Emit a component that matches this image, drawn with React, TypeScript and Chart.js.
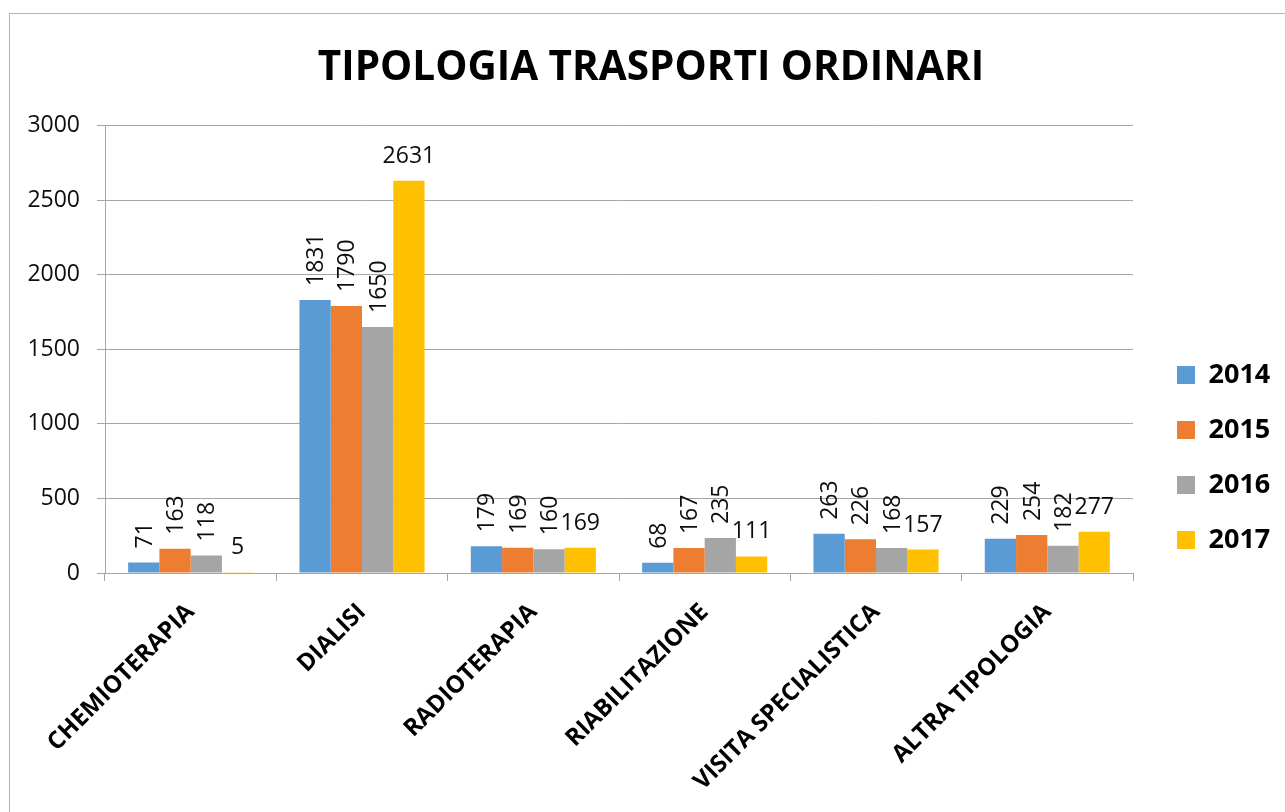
import React, { useEffect, useRef } from "react";
import { Chart, registerables } from "chart.js";

Chart.register(...registerables);

const categories = [
  "CHEMIOTERAPIA",
  "DIALISI",
  "RADIOTERAPIA",
  "RIABILITAZIONE",
  "VISITA SPECIALISTICA",
  "ALTRA TIPOLOGIA",
];
const seriesNames = ["2014", "2015", "2016", "2017"];
const values2014 = [71, 1831, 179, 68, 263, 229];
const values2015 = [163, 1790, 169, 167, 226, 254];
const values2016 = [118, 1650, 160, 235, 168, 182];
const values2017 = [5, 2631, 169, 111, 157, 277];
const seriesColors = ["#5B9BD5", "#ED7D31", "#A5A5A5", "#FFC000"];
const rotatedLabels = [true, true, true, false];
const yTicks = [0, 500, 1000, 1500, 2000, 2500, 3000];
const titleText = "TIPOLOGIA TRASPORTI ORDINARI";

const FONT = "'Open Sans', 'DejaVu Sans', sans-serif";
const GRID = "#a6a6a6";

const dataLabelPlugin = {
  id: "barValueLabels",
  afterDatasetsDraw(chart: any) {
    const ctx = chart.ctx;
    ctx.save();
    ctx.fillStyle = "#0d0d0d";
    ctx.font = `23px ${FONT}`;
    chart.data.datasets.forEach((ds: any, i: number) => {
      const meta = chart.getDatasetMeta(i);
      meta.data.forEach((el: any, j: number) => {
        const text = String(ds.data[j]);
        if (ds.rotatedLabel) {
          ctx.save();
          ctx.translate(el.x + 1.5, el.y - 14);
          ctx.rotate(-Math.PI / 2);
          ctx.textAlign = "left";
          ctx.textBaseline = "middle";
          ctx.fillText(text, 0, 0);
          ctx.restore();
        } else {
          ctx.textAlign = "center";
          ctx.textBaseline = "alphabetic";
          ctx.fillText(text, el.x, el.y - 18);
        }
      });
    });
    ctx.restore();
  },
};

export default function App() {
  const canvasRef = useRef<HTMLCanvasElement | null>(null);

  useEffect(() => {
    if (!canvasRef.current) return;
    Chart.defaults.font.family = FONT;
    const allValues = [values2014, values2015, values2016, values2017];
    const chart = new Chart(canvasRef.current, {
      type: "bar",
      data: {
        labels: categories,
        datasets: seriesNames.map((name, i) => ({
          label: name,
          data: allValues[i],
          backgroundColor: seriesColors[i],
          borderWidth: 0,
          categoryPercentage: 0.73,
          barPercentage: 1.0,
          rotatedLabel: rotatedLabels[i],
        })) as any,
      },
      options: {
        responsive: false,
        animation: false,
        layout: { padding: { left: 25, right: 8, top: 0, bottom: 0 } },
        plugins: {
          tooltip: { enabled: false },
          title: {
            display: true,
            text: titleText,
            color: "#000",
            font: { size: 40.5, weight: "bold", family: FONT },
            padding: { top: 44, bottom: 33 },
          },
          legend: {
            display: true,
            position: "right",
            maxWidth: 128,
            title: {
              display: true,
              text: " ",
              font: { size: 10 },
              padding: { top: 91, bottom: 0 },
            },
            labels: {
              color: "#000",
              font: { size: 27, weight: "bold", family: FONT },
              boxWidth: 18,
              boxHeight: 18,
              padding: 28,
            },
          },
        },
        scales: {
          x: {
            grid: {
              display: true,
              drawOnChartArea: false,
              drawTicks: true,
              tickLength: 8,
              color: GRID,
              offset: true,
            },
            border: { display: true, color: GRID },
            ticks: {
              color: "#000",
              font: { size: 24, weight: "bold", family: FONT },
              minRotation: 45,
              maxRotation: 45,
              autoSkip: false,
              padding: 17,
            },
            afterFit: (s: any) => {
              s.height = 239;
            },
          },
          y: {
            min: 0,
            max: 3000,
            afterBuildTicks: (s: any) => {
              s.ticks = yTicks.map((v) => ({ value: v }));
            },
            grid: { color: GRID, tickLength: 8, drawTicks: true },
            border: { display: true, color: GRID },
            ticks: {
              color: "#0d0d0d",
              font: { size: 23, family: FONT },
              padding: 17,
              callback: (v: any) => String(v),
            },
            afterFit: (s: any) => {
              s.width = 80;
            },
          },
          y2: {
            type: "linear",
            position: "right",
            display: true,
            grid: { display: false, drawTicks: false },
            border: { display: false },
            ticks: { display: false },
            afterFit: (s: any) => {
              const lw = s.chart.legend ? s.chart.legend.width : 128;
              s.width = Math.max(0, 1285 - 8 - lw - 1133);
            },
          },
        },
      } as any,
      plugins: [dataLabelPlugin],
    });
    return () => chart.destroy();
  }, []);

  return (
    <div
      style={{
        position: "fixed",
        left: 0,
        top: 0,
        width: 1285,
        height: 812,
        overflow: "hidden",
        background: "#fff",
      }}
    >
      <div
        style={{
          position: "absolute",
          left: 9,
          top: 13,
          width: 1400,
          height: 900,
          border: "1px solid #b4b4b4",
        }}
      />
      <canvas
        ref={canvasRef}
        width={1285}
        height={812}
        style={{ position: "absolute", left: 0, top: 0, width: 1285, height: 812 }}
      />
    </div>
  );
}
